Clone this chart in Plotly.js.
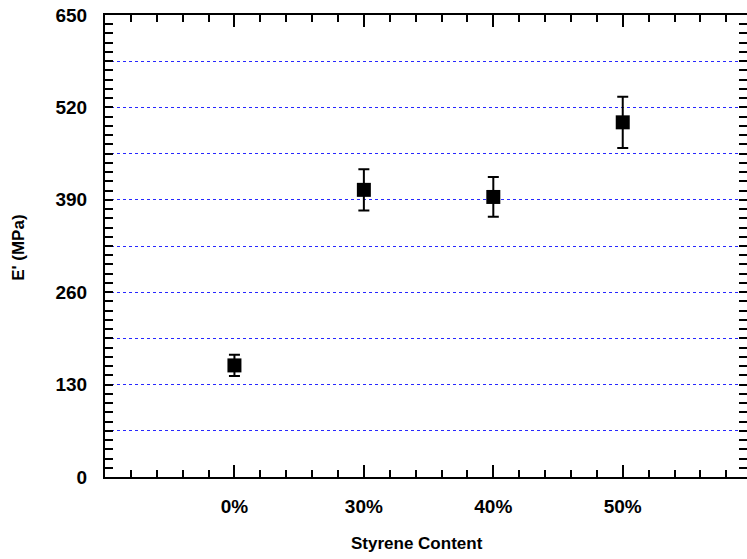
<!DOCTYPE html>
<html>
<head>
<meta charset="utf-8">
<script src="https://cdn.plot.ly/plotly-3.0.1.min.js"></script>
<style>html,body{margin:0;padding:0;background:#fff;}#chart{width:747px;height:559px;}</style>
</head>
<body>
<div id="chart"></div>
<script>
const categories = ["0%", "30%", "40%", "50%"];
const modulus = [157, 404, 394, 499];
const modulusError = [15, 29, 28, 36];
const yTickValues = [0, 130, 260, 390, 520, 650];

const xIndex = categories.map((c, i) => i);
const family = "Arial, 'Liberation Sans', sans-serif";
const tickFont = {family: family, size: 19, color: "#000", weight: "bold"};
const titleFont = {family: family, size: 17, color: "#000", weight: "bold"};

const trace = {
  x: xIndex,
  y: modulus,
  type: "scatter",
  mode: "markers",
  marker: {symbol: "square", size: 14, color: "#000"},
  error_y: {type: "data", array: modulusError, visible: true, color: "#000", thickness: 2, width: 5.5},
  showlegend: false,
  hoverinfo: "skip"
};
const gridTrace = {x: [0], y: [0], yaxis: "y2", mode: "markers", marker: {opacity: 0}, showlegend: false, hoverinfo: "skip"};

const layout = {
  width: 747, height: 559,
  margin: {l: 105, r: 0, t: 15, b: 82},
  paper_bgcolor: "#fff", plot_bgcolor: "#fff",
  font: tickFont,
  xaxis: {
    range: [-1, 3.96],
    tickmode: "array", tickvals: xIndex, ticktext: categories,
    ticks: "inside", ticklen: 12, tickwidth: 2, tickcolor: "#000",
    minor: {dtick: 0.2, tick0: 0, ticks: "inside", ticklen: 7, tickwidth: 2, tickcolor: "#000", showgrid: false},
    showline: true, linewidth: 2, linecolor: "#000", mirror: "ticks",
    showgrid: false, zeroline: false,
    ticklabelstandoff: 11,
    tickfont: tickFont
  },
  yaxis: {
    range: [0, 650],
    tickmode: "array", tickvals: yTickValues,
    ticks: "inside", ticklen: 8, tickwidth: 2, tickcolor: "#000",
    minor: {dtick: 13, tick0: 0, ticks: "inside", ticklen: 8, tickwidth: 2, tickcolor: "#000", showgrid: false},
    showline: true, linewidth: 2, linecolor: "#000", mirror: "ticks",
    showgrid: false, zeroline: false,
    ticklabelstandoff: 12,
    tickfont: tickFont
  },
  yaxis2: {
    range: [0, 650], overlaying: "y", side: "left",
    tickmode: "linear", tick0: 0, dtick: 65,
    showticklabels: false, ticks: "",
    showgrid: true, gridcolor: "rgb(40,40,255)", gridwidth: 1, griddash: "dot",
    zeroline: false, showline: false
  },
  annotations: [
    {text: "Styrene Content", xref: "paper", yref: "paper", x: 0.486, y: -0.145, xanchor: "center", yanchor: "middle", showarrow: false, font: titleFont},
    {text: "E' (MPa)", xref: "paper", yref: "paper", x: -0.134, y: 0.496, xanchor: "center", yanchor: "middle", textangle: -90, showarrow: false, font: titleFont}
  ]
};

Plotly.newPlot("chart", [gridTrace, trace], layout, {displayModeBar: false, staticPlot: true});
</script>
</body>
</html>
